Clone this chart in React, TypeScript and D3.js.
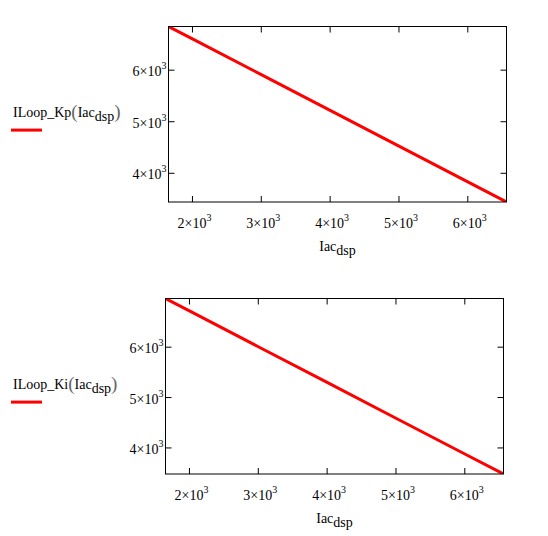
import * as d3 from 'd3';

// Iac_dsp sample points (shared x)
const iacDsp = [1652, 2000, 3000, 4000, 5000, 6000, 6562];
// ILoop_Kp(Iac_dsp)
const kpValues = [6847, 6606, 5913, 5219, 4526, 3833, 3443];
// ILoop_Ki(Iac_dsp)
const kiValues = [6966, 6719, 6009, 5300, 4590, 3880, 3483];

const xTicks = [2000, 3000, 4000, 5000, 6000];
const yTicks = [4000, 5000, 6000];

const FONT = '"Liberation Serif", "Times New Roman", serif';

interface PlotProps {
  id: string;
  left: number;
  top: number;
  width: number;
  height: number;
  yDomain: [number, number];
  values: number[];
  fnName: string;
}

function Plot({ id, left, top, width, height, yDomain, values, fnName }: PlotProps) {
  const x = d3.scaleLinear().domain([iacDsp[0], iacDsp[iacDsp.length - 1]]).range([0, width]);
  const y = d3.scaleLinear().domain(yDomain).range([height, 0]);
  const line = d3.line<number>()
    .x((_, i) => x(iacDsp[i]))
    .y((d) => y(d));
  const tick = 6;

  return (
    <g>
      {/* legend */}
      <text x={13} y={top + 90.6} fontFamily={FONT} fontSize={14} fill="#000">
        {fnName}
        <tspan fontSize={19} fill="#666" dy={1}>(</tspan>
        <tspan dy={-1}>Iac</tspan>
        <tspan dy={4}>dsp</tspan>
        <tspan fontSize={19} fill="#666" dy={-3}>)</tspan>
      </text>
      <line x1={11} x2={42} y1={top + 103.6} y2={top + 103.6} stroke="#f00" strokeWidth={3} />

      <g transform={`translate(${left},${top})`}>
        <clipPath id={id}>
          <rect x={0} y={0} width={width} height={height} />
        </clipPath>
        <path d={line(values) ?? ''} fill="none" stroke="#f00" strokeWidth={3} clipPath={`url(#${id})`} />

        <rect x={0} y={0} width={width} height={height} fill="none" stroke="#000" strokeWidth={1} />

        {xTicks.map((t) => (
          <g key={`x${t}`}>
            <line x1={x(t)} x2={x(t)} y1={height} y2={height - tick} stroke="#000" />
            <line x1={x(t)} x2={x(t)} y1={0} y2={tick} stroke="#000" />
            <text x={x(t) + 2} y={height + 26} textAnchor="middle" fontFamily={FONT} fontSize={14} fill="#000">
              {`${t / 1000}×10`}
              <tspan fontSize={10} dy={-7}>3</tspan>
            </text>
          </g>
        ))}

        {yTicks.map((t) => (
          <g key={`y${t}`}>
            <line x1={0} x2={tick} y1={y(t)} y2={y(t)} stroke="#000" />
            <line x1={width} x2={width - tick} y1={y(t)} y2={y(t)} stroke="#000" />
            <text x={-2} y={y(t) + 6} textAnchor="end" fontFamily={FONT} fontSize={14} fill="#000">
              {`${t / 1000}×10`}
              <tspan fontSize={10} dy={-7}>3</tspan>
            </text>
          </g>
        ))}

        <text x={width / 2} y={height + 48.7} textAnchor="middle" fontFamily={FONT} fontSize={14} fill="#000">
          Iac
          <tspan dy={4}>dsp</tspan>
        </text>
      </g>
    </g>
  );
}

export default function App() {
  return (
    <svg width={548} height={536} style={{ position: 'absolute', left: 0, top: 0, background: '#fff' }}>
      <rect width={548} height={536} fill="#fff" />
      <Plot id="clipKp" left={168.5} top={26.5} width={338} height={175.5} yDomain={[3443, 6847]} values={kpValues} fnName="ILoop_Kp" />
      <Plot id="clipKi" left={165.5} top={298.5} width={338} height={175.5} yDomain={[3483, 6966]} values={kiValues} fnName="ILoop_Ki" />
    </svg>
  );
}
